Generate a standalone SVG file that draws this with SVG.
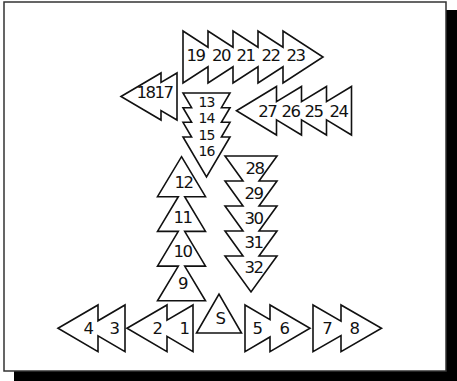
<svg xmlns="http://www.w3.org/2000/svg" width="457" height="381" viewBox="0 0 457 381">
<style>
.tri{fill:#fff;stroke:#111;stroke-width:1.6;stroke-linejoin:miter}
.lbl{font-family:"DejaVu Sans","Liberation Sans",sans-serif;font-size:16.5px;fill:#111;text-anchor:middle;letter-spacing:-1.5px}
.sm{font-size:14px;letter-spacing:-1px}
</style>
<rect x="14" y="10" width="443" height="371" fill="#000"/>
<rect x="4" y="2" width="442" height="369" fill="#fff" stroke="#333" stroke-width="1.5"/>
<g id="connectors"/>
<g id="chain-19-23">
<polygon class="tri" points="183,31 208,47.25 208,31 233,47.25 233,31 258,47.25 258,31 283,47.25 283,31 323,57 283,83 283,66.75 258,83 258,66.75 233,83 233,66.75 208,83 208,66.75 183,83"/>
<text class="lbl" x="195.5" y="60.5">19</text><text class="lbl" x="221" y="60.5">20</text><text class="lbl" x="245.5" y="60.5">21</text><text class="lbl" x="270.5" y="60.5">22</text><text class="lbl" x="295.5" y="60.5">23</text>
</g>
<g id="chain-18-17">
<polygon class="tri" points="121,96.5 161,73 161,82.4 177,73 177,120 161,110.6 161,120"/>
<text class="lbl" x="145.5" y="98">18</text><text class="lbl" x="163.5" y="98">17</text>
</g>
<g id="chain-27-24">
<polygon class="tri" points="236.5,110.75 276.5,86.5 276.5,101.66 301.5,86.5 301.5,101.66 326.5,86.5 326.5,101.66 351.5,86.5 351.5,135 326.5,119.84 326.5,135 301.5,119.84 301.5,135 276.5,119.84 276.5,135"/>
<text class="lbl" x="267.2" y="117">27</text><text class="lbl" x="290.5" y="117">26</text><text class="lbl" x="313.5" y="117">25</text><text class="lbl" x="338.5" y="117">24</text>
</g>
<g id="chain-13-16">
<polygon class="tri" points="183,93 230,93 221.4,107.7 230,107.7 221.4,122.3 230,122.3 221.4,137 230,137 206.5,177 183,137 191.6,137 183,122.3 191.6,122.3 183,107.7 191.6,107.7"/>
<text class="lbl sm" x="206.5" y="106.5">13</text><text class="lbl sm" x="206.5" y="123">14</text><text class="lbl sm" x="206.5" y="139.5">15</text><text class="lbl sm" x="206.5" y="156">16</text>
</g>
<g id="chain-12-9">
<polygon class="tri" points="181.5,156.7 205.5,196.7 184.7,196.7 205.5,231.4 184.7,231.4 205.5,266.1 184.7,266.1 205.5,300.8 157.5,300.8 178.3,266.1 157.5,266.1 178.3,231.4 157.5,231.4 178.3,196.7 157.5,196.7"/>
<text class="lbl" x="183.5" y="187.5">12</text><text class="lbl" x="182.5" y="222.5">11</text><text class="lbl" x="182.5" y="257">10</text><text class="lbl" x="182.5" y="289">9</text>
</g>
<g id="chain-28-32">
<polygon class="tri" points="225,156 277,156 259,181 277,181 259,206 277,206 259,231 277,231 259,256 277,256 251,292 225,256 243,256 225,231 243,231 225,206 243,206 225,181 243,181"/>
<text class="lbl" x="254.5" y="173.5">28</text><text class="lbl" x="253.5" y="198.5">29</text><text class="lbl" x="253.5" y="223.5">30</text><text class="lbl" x="253.5" y="247.5">31</text><text class="lbl" x="253.5" y="272.5">32</text>
</g>
<g id="chain-4-3">
<polygon class="tri" points="58,328.3 98,305 98,320.8 125,305 125,351.7 98,335.8 98,351.7"/>
<text class="lbl" x="88" y="334">4</text><text class="lbl" x="114" y="334">3</text>
</g>
<g id="chain-2-1">
<polygon class="tri" points="127,328.3 167,305 167,320.2 193,305 193,351.7 167,336.4 167,351.7"/>
<text class="lbl" x="157" y="334">2</text><text class="lbl" x="184" y="334">1</text>
</g>
<g id="node-S">
<polygon class="tri" points="196.5,333 241.5,333 219,294"/>
<text class="lbl" x="220" y="324">S</text>
</g>
<g id="chain-5-6">
<polygon class="tri" points="245,305 270,319.6 270,305 310,328.3 270,351.7 270,337 245,351.7"/>
<text class="lbl" x="257" y="334">5</text><text class="lbl" x="284" y="334">6</text>
</g>
<g id="chain-7-8">
<polygon class="tri" points="313,305 341,321.1 341,305 381.5,328.3 341,351.7 341,335.6 313,351.7"/>
<text class="lbl" x="326.7" y="334">7</text><text class="lbl" x="354" y="334">8</text>
</g>
</svg>
